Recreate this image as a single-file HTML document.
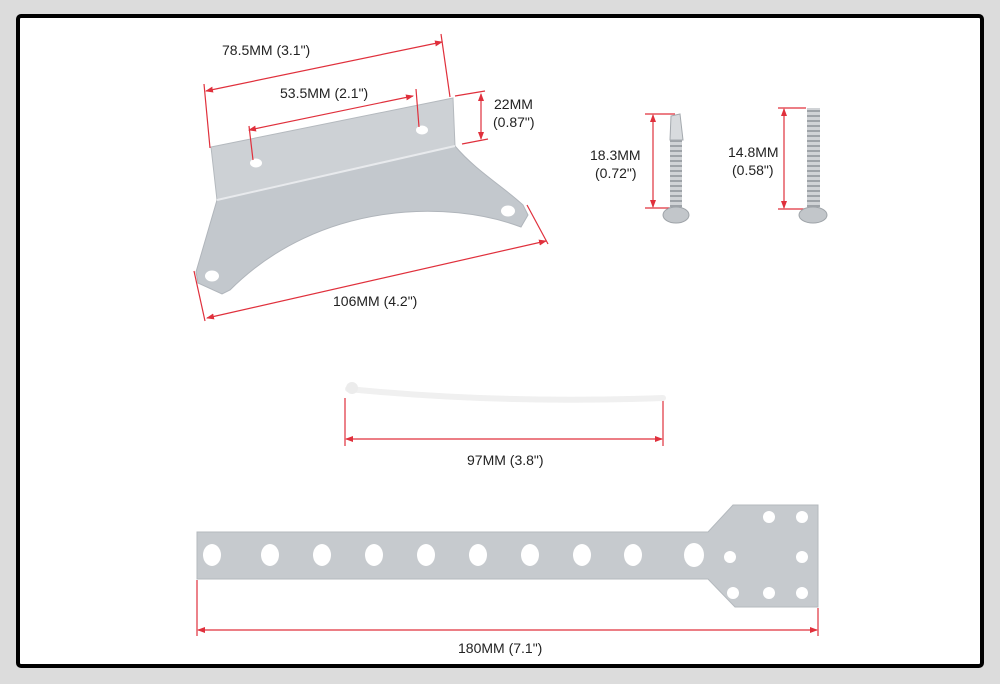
<!DOCTYPE html>
<html><head><meta charset="utf-8"><style>
html,body{margin:0;padding:0;background:#dcdcdc;}
svg{display:block}
text{font-family:"Liberation Sans",Arial,sans-serif;font-size:14px;fill:#222}
</style></head><body>
<svg width="1000" height="684" viewBox="0 0 1000 684" xmlns="http://www.w3.org/2000/svg">
<defs>
<marker id="a" markerWidth="8" markerHeight="6" refX="7" refY="3" orient="auto-start-reverse" markerUnits="userSpaceOnUse"><path d="M0,0 L8,3 L0,6 z" fill="#e0303c"/></marker>
<pattern id="thr" width="4" height="5" patternUnits="userSpaceOnUse"><rect width="4" height="5" fill="#d0d3d6"/><rect y="0" width="4" height="2" fill="#9ea3a8"/></pattern>
</defs>
<rect x="18" y="16" width="964" height="650" rx="3" fill="#fff" stroke="#000" stroke-width="4"/>

<!-- bracket -->
<path d="M217,200 L455,146 C475,170 505,188 523,205 L528,215 L521,227 C450,200 320,200 230,290 L222,294 L198,283 L196,272 Z" fill="#c3c8cd" stroke="#b0b5bb"/>
<path d="M211,147 L453,98 L455,146 L217,200 Z" fill="#cdd1d5" stroke="#b4b9be"/>
<path d="M217,200 L455,146" stroke="#e8eaed" stroke-width="2"/>
<ellipse cx="256" cy="163" rx="6" ry="4.5" fill="#fff"/>
<ellipse cx="422" cy="130" rx="6" ry="4.5" fill="#fff"/>
<ellipse cx="508" cy="211" rx="7" ry="5.5" fill="#fff"/>
<ellipse cx="212" cy="276" rx="7" ry="5.5" fill="#fff"/>

<g stroke="#e0303c" stroke-width="1.2" fill="none">
<line x1="204" y1="84" x2="210" y2="148"/><line x1="441" y1="34" x2="450" y2="97"/>
<line x1="206" y1="91" x2="442" y2="42" marker-start="url(#a)" marker-end="url(#a)"/>
<line x1="249" y1="126" x2="253" y2="160"/><line x1="416" y1="89" x2="419" y2="127"/>
<line x1="249" y1="130" x2="413" y2="96" marker-start="url(#a)" marker-end="url(#a)"/>
<line x1="455" y1="96" x2="485" y2="91"/><line x1="462" y1="144" x2="488" y2="139"/>
<line x1="481" y1="94" x2="481" y2="139" marker-start="url(#a)" marker-end="url(#a)"/>
<line x1="194" y1="271" x2="205" y2="321"/><line x1="527" y1="205" x2="548" y2="244"/>
<line x1="207" y1="318" x2="546" y2="241" marker-start="url(#a)" marker-end="url(#a)"/>
<line x1="645" y1="114" x2="675" y2="114"/><line x1="645" y1="208" x2="670" y2="208"/>
<line x1="653" y1="115" x2="653" y2="207" marker-start="url(#a)" marker-end="url(#a)"/>
<line x1="778" y1="108" x2="806" y2="108"/><line x1="778" y1="209" x2="806" y2="209"/>
<line x1="784" y1="109" x2="784" y2="208" marker-start="url(#a)" marker-end="url(#a)"/>
<line x1="345" y1="398" x2="345" y2="446"/><line x1="663" y1="400" x2="663" y2="446"/>
<line x1="346" y1="439" x2="662" y2="439" marker-start="url(#a)" marker-end="url(#a)"/>
<line x1="197" y1="580" x2="197" y2="636"/><line x1="818" y1="608" x2="818" y2="636"/>
<line x1="198" y1="630" x2="817" y2="630" marker-start="url(#a)" marker-end="url(#a)"/>
</g>

<text x="222" y="55">78.5MM (3.1")</text>
<text x="280" y="98">53.5MM (2.1")</text>
<text x="494" y="109">22MM</text>
<text x="493" y="127">(0.87")</text>
<text x="590" y="160">18.3MM</text>
<text x="595" y="178">(0.72")</text>
<text x="728" y="157">14.8MM</text>
<text x="732" y="175">(0.58")</text>
<text x="333" y="306">106MM (4.2")</text>
<text x="467" y="465">97MM (3.8")</text>
<text x="458" y="653">180MM (7.1")</text>

<!-- screws -->
<rect x="670" y="140" width="12" height="68" fill="url(#thr)"/>
<path d="M671,116 L680,114 L683,140 L670,140 Z" fill="#d8dbde" stroke="#a4a9ae"/>
<ellipse cx="676" cy="215" rx="13" ry="8" fill="#c2c6ca" stroke="#9ea3a8"/>
<rect x="807" y="108" width="13" height="100" fill="url(#thr)"/>
<ellipse cx="813" cy="215" rx="14" ry="8" fill="#c2c6ca" stroke="#9ea3a8"/>

<!-- cable tie -->
<path d="M348,389 Q500,404 663,398" stroke="#f0f0f0" stroke-width="6" fill="none" stroke-linecap="round"/>
<circle cx="352" cy="388" r="6" fill="#ececec"/>

<!-- strap -->
<path d="M197,532 L708,532 L733,505 L818,505 L818,607 L735,607 L708,579 L197,579 Z" fill="#c6cace" stroke="#b4b9be"/>
<g fill="#fff">
<ellipse cx="212" cy="555" rx="9" ry="11"/><ellipse cx="270" cy="555" rx="9" ry="11"/><ellipse cx="322" cy="555" rx="9" ry="11"/><ellipse cx="374" cy="555" rx="9" ry="11"/><ellipse cx="426" cy="555" rx="9" ry="11"/><ellipse cx="478" cy="555" rx="9" ry="11"/><ellipse cx="530" cy="555" rx="9" ry="11"/><ellipse cx="582" cy="555" rx="9" ry="11"/><ellipse cx="633" cy="555" rx="9" ry="11"/><ellipse cx="694" cy="555" rx="10" ry="12"/>
<circle cx="730" cy="557" r="6"/><circle cx="769" cy="517" r="6"/><circle cx="802" cy="517" r="6"/><circle cx="802" cy="557" r="6"/><circle cx="769" cy="593" r="6"/><circle cx="802" cy="593" r="6"/><circle cx="733" cy="593" r="6"/>
</g>
</svg>
</body></html>
